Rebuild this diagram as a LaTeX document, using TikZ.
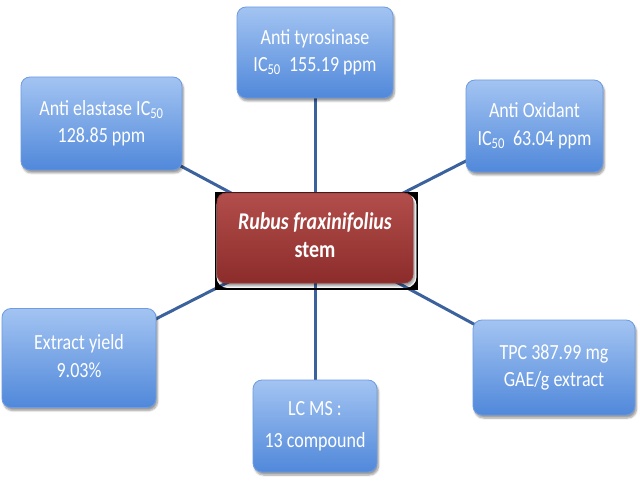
\documentclass[tikz,border=0pt]{standalone}
\usepackage{fontspec}
\usepackage{graphicx}
\setmainfont{Carlito}
\usetikzlibrary{shadows.blur,backgrounds}
\pgfdeclarelayer{lines}
\pgfsetlayers{background,lines,main}
\definecolor{bluetop}{RGB}{163,196,242}
\definecolor{bluebot}{RGB}{80,136,218}
\definecolor{blueedge}{RGB}{110,155,225}
\definecolor{redtop}{RGB}{178,78,76}
\definecolor{redbot}{RGB}{140,44,42}
\definecolor{rededge}{RGB}{150,60,58}
\definecolor{linkcol}{RGB}{60,98,158}
\newcommand\tx[1]{\scalebox{1}[1.2]{\fontsize{18}{23}\selectfont\begin{tabular}{@{}c@{}}#1\end{tabular}}}
\newcommand\hubtx[1]{\scalebox{1}[1.2]{\fontsize{20}{23}\selectfont\bfseries\begin{tabular}{@{}c@{}}#1\end{tabular}}}
\tikzset{
 box/.style={rounded corners=9pt, top color=bluetop, bottom color=bluebot, draw=blueedge,
   line width=0.8pt, text=white, align=center, inner sep=0pt,
   blur shadow={shadow xshift=1.5pt, shadow yshift=-3pt, shadow blur steps=6, shadow opacity=40}},
 hub/.style={box, top color=redtop, bottom color=redbot, draw=rededge},
 link/.style={draw=linkcol, line width=3pt}
}
\begin{document}
\begin{tikzpicture}[x=1pt,y=1pt]
\useasboundingbox (0,0) rectangle (640,480);
\begin{pgfonlayer}{background}
\fill[white] (0,0) rectangle (640,480);
\end{pgfonlayer}
\node[hub, minimum width=196pt, minimum height=90pt] (hubnode) at (315,242) {\hubtx{\textit{Rubus fraxinifolius}\\stem}};
\node[box, minimum width=156pt, minimum height=91pt] (top) at (315,427.5) {\tx{Anti tyrosinase\\IC\textsubscript{50}\ \ 155.19 ppm}};
\node[box, minimum width=161pt, minimum height=93pt] (el) at (101.5,356.5) {\tx{Anti elastase IC\textsubscript{50}\\128.85 ppm}};
\node[box, minimum width=137pt, minimum height=92pt] (ox) at (534.5,354) {\tx{Anti Oxidant\\IC\textsubscript{50}\ \ 63.04 ppm}};
\node[box, minimum width=154pt, minimum height=99pt] (ex) at (79,122) {\tx{Extract yield\\9.03\%}};
\node[box, minimum width=162pt, minimum height=95pt] (tpc) at (554,112.5) {\tx{TPC 387.99 mg\\GAE/g extract}};
\node[box, minimum width=124pt, minimum height=92pt] (lc) at (315,54) {\tx{LC MS :\\[3pt]13 compound}};
\begin{pgfonlayer}{lines}
\draw[link] (hubnode.center) -- (top.center);
\draw[link] (hubnode.center) -- (el.center);
\draw[link] (hubnode.center) -- (ox.center);
\draw[link] (hubnode.center) -- (ex.center);
\draw[link] (hubnode.center) -- (tpc.center);
\draw[link] (hubnode.center) -- (lc.center);
\end{pgfonlayer}
\end{tikzpicture}
\end{document}
